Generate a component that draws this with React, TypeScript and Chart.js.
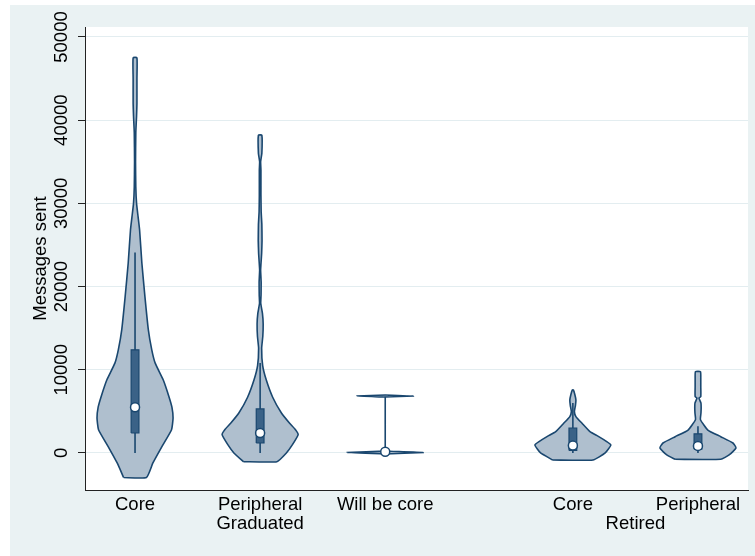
import React, { useEffect, useRef } from 'react';
import { Chart, registerables } from 'chart.js';

Chart.register(...registerables);

// ---- data ----
const categories = ['Core', 'Peripheral', 'Will be core', 'Core', 'Peripheral'];
const groupLabels = ['Graduated', 'Retired'];
const yTickValues = [0, 10000, 20000, 30000, 40000, 50000];

// violin outlines: value (messages sent) and relative density (0-100)
const coreValues = [-2950, -1200, 800, 2800, 4200, 5500, 6800, 8800, 10800, 12400, 14800, 18800, 22800, 26800, 28400, 30000, 32000, 35000, 38500, 40500, 42000, 45000, 47500];
const coreDensity = [30, 47, 71, 96, 100, 97, 89, 74, 53, 44, 35, 26, 18, 12, 8, 4, 2, 1.3, 2, 4, 5, 5, 5];

const peripheralValues = [-1050, 0, 1000, 2200, 2800, 3600, 4800, 6700, 8800, 10500, 12600, 14000, 15500, 16800, 18000, 19000, 20500, 22000, 24000, 25500, 27500, 29000, 31000, 34000, 35000, 36000, 38200];
const peripheralDensity = [44, 69, 85, 100, 93, 77, 56, 33, 16, 6.7, 4, 7, 8, 6, 1.6, 2.4, 2.7, 1.3, 4, 5, 4.5, 2.7, 2.1, 2.1, 1.3, 4.5, 4.5];

const willBeCoreValues = [-120, 50, 220, 6730, 6850, 6970];
const willBeCoreDensity = [0, 100, 0, 0, 74, 0];

const retiredCoreValues = [-840, 0, 960, 1400, 2000, 2560, 3570, 4370, 4970, 5700, 6370, 7000, 7570];
const retiredCoreDensity = [53, 85, 100, 88, 67, 45, 24, 8, 4, 6.7, 8, 5.3, 1.3];

const retiredPeripheralValues = [-760, -240, 600, 1200, 1960, 2760, 4000, 4800, 5400, 6000, 6600, 6770, 8000, 9000, 9770];
const retiredPeripheralDensity = [60, 82, 100, 92, 60, 26, 6.6, 7.9, 8.4, 7.9, 2.6, 7.4, 7.4, 7.4, 6.6];

// box plot statistics per category (null = not drawn)
const q1s = [2400, 1200, null, 300, 450];
const medians = [5500, 2400, 150, 900, 850];
const q3s = [12400, 5300, null, 3000, 2300];
const whiskerLows = [0, 0, null, 0, 0];
const whiskerHighs = [24100, 10800, null, 6000, 3200];

// ---- layout / style ----
const categoryPositions = [1, 2, 3, 4.5, 5.5];
const groupPositions = [2, 5];
const violinTension = [0.15, 0.12, 0.0001, 0.15, 0.15];
const X_MIN = 0.6;
const X_MAX = 5.9;
const Y_MIN = -4450;
const Y_MAX = 51200;
const VIOLIN_HALF = 0.304; // x-units for density 100
const BOX_HALF = 0.031;
const NAVY = '#1A476F';
const VIOLIN_FILL = '#AFBFCE';
const BOX_FILL = '#3A6287';
const BG = '#EAF2F3';
const GRID = '#E3EDF0';
const FONT = '"Liberation Sans", Arial, Helvetica, sans-serif';
const FONT_SIZE = 18.5;

const violinValues = [coreValues, peripheralValues, willBeCoreValues, retiredCoreValues, retiredPeripheralValues];
const violinDensity = [coreDensity, peripheralDensity, willBeCoreDensity, retiredCoreDensity, retiredPeripheralDensity];

function violinOutline(pos: number, vals: number[], dens: number[]) {
  const left = vals.map((v, i) => ({ x: pos - (dens[i] / 100) * VIOLIN_HALF, y: v }));
  const right = vals.map((v, i) => ({ x: pos + (dens[i] / 100) * VIOLIN_HALF, y: v })).reverse();
  return [...left, ...right, left[0]];
}

const bgPlugin = {
  id: 'bgPlugin',
  beforeDraw(chart: any) {
    const { ctx, width, height, chartArea } = chart;
    ctx.save();
    ctx.fillStyle = BG;
    ctx.fillRect(0, 0, width, height);
    ctx.fillStyle = '#ffffff';
    ctx.fillRect(chartArea.left, chartArea.top, chartArea.right - chartArea.left, chartArea.bottom - chartArea.top);
    ctx.restore();
  },
};

const yLabelPlugin = {
  id: 'yLabelPlugin',
  afterDraw(chart: any) {
    const ys = chart.scales.y;
    const ctx = chart.ctx;
    ctx.save();
    ctx.font = `${FONT_SIZE}px ${FONT}`;
    ctx.fillStyle = '#000';
    ctx.textAlign = 'center';
    ctx.textBaseline = 'middle';
    ys.ticks.forEach((t: any) => {
      const py = ys.getPixelForValue(t.value);
      ctx.save();
      ctx.translate(ys.right - 23, py);
      ctx.rotate(-Math.PI / 2);
      ctx.fillText(String(t.value), 0, 0);
      ctx.restore();
    });
    ctx.restore();
  },
};

export default function App() {
  const ref = useRef<HTMLCanvasElement | null>(null);

  useEffect(() => {
    if (!ref.current) return;
    const datasets: any[] = [];

    violinValues.forEach((vals, i) => {
      datasets.push({
        data: violinOutline(categoryPositions[i], vals, violinDensity[i]),
        borderColor: NAVY,
        backgroundColor: VIOLIN_FILL,
        borderWidth: 1.6,
        fill: 'shape',
        tension: violinTension[i],
        pointRadius: 0,
        pointHoverRadius: 0,
        order: 4,
      });
    });

    categoryPositions.forEach((p, i) => {
      const lo = whiskerLows[i];
      const hi = whiskerHighs[i];
      if (lo === null || hi === null) return;
      datasets.push({
        data: [{ x: p, y: lo }, { x: p, y: hi }],
        borderColor: NAVY,
        borderWidth: 1.6,
        fill: false,
        tension: 0.0001,
        pointRadius: 0,
        pointHoverRadius: 0,
        order: 3,
      });
    });

    categoryPositions.forEach((p, i) => {
      const a = q1s[i];
      const b = q3s[i];
      if (a === null || b === null) return;
      datasets.push({
        data: [
          { x: p - BOX_HALF, y: a },
          { x: p - BOX_HALF, y: b },
          { x: p + BOX_HALF, y: b },
          { x: p + BOX_HALF, y: a },
          { x: p - BOX_HALF, y: a },
        ],
        borderColor: NAVY,
        backgroundColor: BOX_FILL,
        borderWidth: 1.2,
        fill: 'shape',
        tension: 0.0001,
        pointRadius: 0,
        pointHoverRadius: 0,
        order: 2,
      });
    });

    datasets.push({
      data: medians.map((m, i) => ({ x: categoryPositions[i], y: m })),
      showLine: false,
      pointRadius: 4.5,
      pointHoverRadius: 4.5,
      pointBackgroundColor: '#ffffff',
      pointBorderColor: NAVY,
      pointBorderWidth: 1.5,
      order: 1,
    });

    const tickLabels = new Map<number, string | string[]>();
    categoryPositions.forEach((p, i) => {
      const gi = groupPositions.indexOf(p);
      tickLabels.set(p, gi >= 0 ? [categories[i], groupLabels[gi]] : categories[i]);
    });
    groupPositions.forEach((p, gi) => {
      if (!tickLabels.has(p)) tickLabels.set(p, ['', groupLabels[gi]]);
    });
    const xTickValues = Array.from(tickLabels.keys()).sort((a, b) => a - b);

    const chart = new Chart(ref.current, {
      type: 'line',
      data: { datasets },
      plugins: [bgPlugin, yLabelPlugin],
      options: {
        animation: false,
        responsive: false,
        events: [],
        layout: { padding: { top: 22, right: 7, left: 0, bottom: 0 } },
        plugins: { legend: { display: false }, tooltip: { enabled: false } },
        scales: {
          x: {
            type: 'linear',
            min: X_MIN,
            max: X_MAX,
            afterBuildTicks: (s: any) => {
              s.ticks = xTickValues.map((v) => ({ value: v }));
            },
            afterFit: (s: any) => {
              s.height = 66;
            },
            grid: { display: false },
            border: { display: true, color: '#222', width: 1 },
            ticks: {
              autoSkip: false,
              maxRotation: 0,
              minRotation: 0,
              padding: -3,
              color: '#000',
              font: { family: FONT, size: FONT_SIZE, lineHeight: 1.05 },
              callback: (v: any) => tickLabels.get(Number(v)) ?? '',
            },
          },
          y: {
            type: 'linear',
            min: Y_MIN,
            max: Y_MAX,
            afterBuildTicks: (s: any) => {
              s.ticks = yTickValues.map((v) => ({ value: v }));
            },
            afterFit: (s: any) => {
              s.width = 75;
            },
            grid: { color: GRID, lineWidth: 1, tickColor: '#222', tickLength: 7, drawTicks: true },
            border: { display: true, color: '#222', width: 1 },
            ticks: { display: false },
            title: {
              display: true,
              text: 'Messages sent',
              color: '#000',
              font: { family: FONT, size: FONT_SIZE, lineHeight: 1.2 },
              padding: { top: 20, bottom: 0 },
            },
          },
        },
      } as any,
    });
    return () => chart.destroy();
  }, []);

  return (
    <div style={{ position: 'fixed', left: 0, top: 0, width: 755, height: 556, background: '#ffffff' }}>
      <canvas
        ref={ref}
        width={745}
        height={551}
        style={{ position: 'absolute', left: 10, top: 5, width: 745, height: 551 }}
      />
    </div>
  );
}
